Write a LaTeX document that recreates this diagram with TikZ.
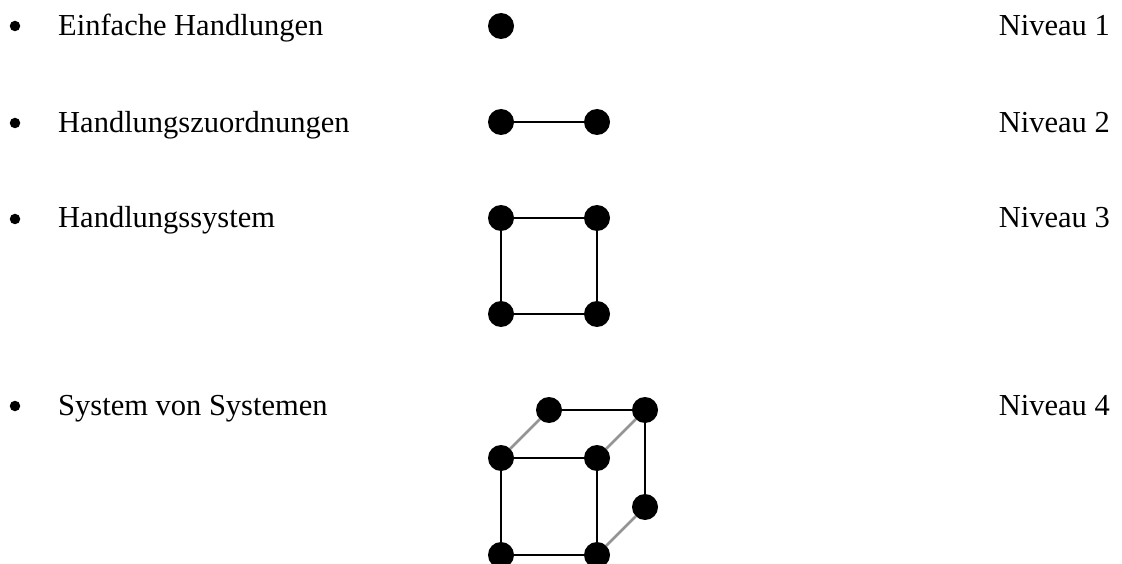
\documentclass[tikz,border=0pt]{standalone}
\usepackage{fontspec}
\setmainfont{Liberation Serif}
\begin{document}
\begin{tikzpicture}[x=1pt,y=-1pt,
  dot/.style={circle,fill=black,inner sep=0pt,minimum size=26pt},
  bul/.style={circle,fill=black,inner sep=0pt,minimum size=10.5pt},
  lbl/.style={anchor=base west,inner sep=0pt,font=\fontsize{30.5}{36}\selectfont},
  niv/.style={anchor=base east,inner sep=0pt,font=\fontsize{30.5}{36}\selectfont},
  edge/.style={draw=black,line width=1.8pt},
  gedge/.style={draw=black!42,line width=2.8pt}]
\useasboundingbox (0,0) rectangle (1122,564);
\clip (0,0) rectangle (1122,564);
% texts
\node[bul] (b1) at (15,26) {};
\node[bul] (b2) at (15,123) {};
\node[bul] (b3) at (15,219) {};
\node[bul] (b4) at (15,406) {};
\node[lbl] (t1) at (58,36) {Einfache Handlungen};
\node[lbl] (t2) at (58,133) {Handlungszuordnungen};
\node[lbl] (t3) at (58,228) {Handlungssystem};
\node[lbl] (t4) at (58,415) {System von Systemen};
\node[niv] (n1) at (1110,36) {Niveau 1};
\node[niv] (n2) at (1110,133) {Niveau 2};
\node[niv] (n3) at (1110,228) {Niveau 3};
\node[niv] (n4) at (1110,415) {Niveau 4};
% level 1
\node[dot] (a1) at (501,26) {};
% level 2
\node[dot] (c1) at (501,122) {};
\node[dot] (c2) at (597,122) {};
\draw[edge] (c1) -- (c2);
% level 3
\node[dot] (d1) at (501,218) {};
\node[dot] (d2) at (597,218) {};
\node[dot] (d3) at (501,314) {};
\node[dot] (d4) at (597,314) {};
\draw[edge] (d1) -- (d2);
\draw[edge] (d1) -- (d3);
\draw[edge] (d3) -- (d4);
\draw[edge] (d2) -- (d4);
% level 4
\node[dot] (e5) at (549,410) {};
\node[dot] (e6) at (645,410) {};
\node[dot] (e1) at (501,458) {};
\node[dot] (e2) at (597,458) {};
\node[dot] (e7) at (645,507) {};
\node[dot] (e3) at (501,555) {};
\node[dot] (e4) at (597,555) {};
\draw[edge] (e1) -- (e2);
\draw[edge] (e1) -- (e3);
\draw[edge] (e3) -- (e4);
\draw[edge] (e2) -- (e4);
\draw[edge] (e5) -- (e6);
\draw[edge] (e6) -- (e7);
\draw[gedge] (e1) -- (e5);
\draw[gedge] (e2) -- (e6);
\draw[gedge] (e4) -- (e7);
\end{tikzpicture}
\end{document}
